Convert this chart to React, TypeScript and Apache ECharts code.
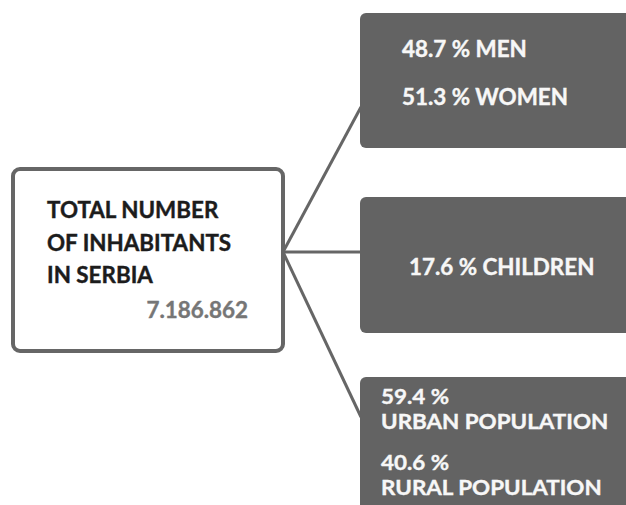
import React, { useEffect, useRef } from "react";
import * as echarts from "echarts";

const totalLines = ["TOTAL NUMBER", "OF INHABITANTS", "IN SERBIA"];
const totalInhabitants = "7.186.862";
const genderShares = [48.7, 51.3];
const genderLabels = ["MEN", "WOMEN"];
const childrenShares = [17.6];
const childrenLabels = ["CHILDREN"];
const settlementShares = [59.4, 40.6];
const settlementLabels = ["URBAN POPULATION", "RURAL POPULATION"];

const FONT = "Lato";
const BOX = "#636363";
const LINE = "#666666";
const FS = 22.4;
const pct = (v: number) => v.toFixed(1) + " %";

export default function App() {
  const ref = useRef<HTMLDivElement>(null);
  useEffect(() => {
    if (!ref.current) return;
    const chart = echarts.init(ref.current, undefined, { renderer: "svg" });
    const white = {
      fill: "#f7f7f7",
      font: `bold ${FS}px ${FONT}`,
      verticalAlign: "middle",
      stroke: "#f7f7f7",
      lineWidth: 0.4,
    };
    const elements: any[] = [];
    const origin = [283, 252];
    [[361, 107], [361, 252], [361, 417]].forEach((p) => {
      elements.push({
        type: "line",
        shape: { x1: origin[0], y1: origin[1], x2: p[0], y2: p[1] },
        style: { stroke: LINE, lineWidth: 3 },
      });
    });
    elements.push({
      type: "rect",
      shape: { x: 13, y: 169, width: 270, height: 182, r: 7 },
      style: { fill: "#fff", stroke: LINE, lineWidth: 4 },
    });
    totalLines.forEach((t, i) => {
      elements.push({
        type: "text",
        x: 47,
        y: 209.5 + i * 32.5,
        style: {
          text: t,
          fill: "#1c1c1c",
          stroke: "#1c1c1c",
          lineWidth: 0.4,
          font: `bold ${FS}px ${FONT}`,
          verticalAlign: "middle",
        },
      });
    });
    elements.push({
      type: "text",
      x: 248,
      y: 309,
      style: {
        text: totalInhabitants,
        fill: "#767676",
        stroke: "#767676",
        lineWidth: 0.4,
        font: `bold ${FS}px ${FONT}`,
        align: "right",
        verticalAlign: "middle",
      },
    });
    [[13, 135], [197, 136], [377, 150]].forEach(([y, h]) => {
      elements.push({
        type: "rect",
        shape: { x: 360, y, width: 300, height: h, r: 6 },
        style: { fill: BOX },
      });
    });
    genderShares.forEach((v, i) => {
      elements.push({
        type: "text",
        x: 402,
        y: 48.5 + i * 48,
        style: { ...white, text: `${pct(v)} ${genderLabels[i]}` },
      });
    });
    childrenShares.forEach((v, i) => {
      elements.push({
        type: "text",
        x: 409,
        y: 266,
        style: { ...white, text: `${pct(v)} ${childrenLabels[i]}` },
      });
    });
    settlementShares.forEach((v, i) => {
      elements.push({
        type: "text",
        x: 381,
        y: 396 + i * 66,
        scaleY: 0.92,
        style: { ...white, text: pct(v) },
      });
      elements.push({
        type: "text",
        x: 381,
        y: 420.9 + i * 66,
        scaleY: 0.92,
        style: { ...white, text: settlementLabels[i] },
      });
    });
    chart.setOption({
      animation: false,
      backgroundColor: "#ffffff",
      graphic: { elements },
    });
    return () => chart.dispose();
  }, []);
  return (
    <div
      ref={ref}
      style={{ position: "fixed", left: 0, top: 0, width: 626, height: 505 }}
    />
  );
}
